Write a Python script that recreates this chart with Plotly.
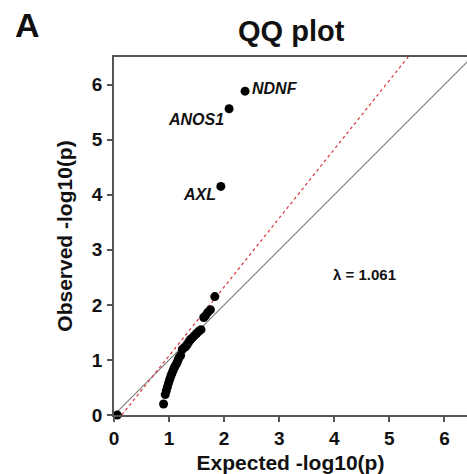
import plotly.graph_objects as go

# Data
expected = [0.06, 0.90, 0.93, 0.95, 0.97, 0.99, 1.01, 1.03, 1.05, 1.07, 1.09, 1.11,
            1.14, 1.16, 1.18, 1.21, 1.24, 1.27, 1.30, 1.33, 1.36, 1.39, 1.42, 1.46,
            1.50, 1.54, 1.58, 1.63, 1.66, 1.70, 1.75, 1.83, 1.94, 2.09, 2.38]
observed = [0.00, 0.20, 0.37, 0.44, 0.51, 0.58, 0.64, 0.70, 0.75, 0.80, 0.85, 0.89,
            0.94, 0.99, 1.04, 1.08, 1.19, 1.22, 1.24, 1.28, 1.33, 1.37, 1.40, 1.44,
            1.48, 1.52, 1.55, 1.77, 1.80, 1.86, 1.91, 2.15, 4.15, 5.56, 5.88]
gene_labels = ["AXL", "ANOS1", "NDNF"]
gene_x = [1.94, 2.09, 2.38]
gene_y = [4.15, 5.56, 5.88]
lambda_text = "λ = 1.061"
fit_slope = 1.25
fit_intercept = -0.175
x_range = [0, 6.41]
y_range = [0, 6.5]
ticks = [0, 1, 2, 3, 4, 5, 6]

FONT = "Liberation Sans, Arial, sans-serif"

fig = go.Figure()

# identity line
fig.add_trace(go.Scatter(x=[0, 7], y=[0, 7], mode="lines",
                         line=dict(color="#7a7a7a", width=1.1), hoverinfo="skip",
                         showlegend=False))
# fitted line
fx = [(-fit_intercept) / fit_slope, 7]
fy = [fit_slope * v + fit_intercept for v in fx]
fig.add_trace(go.Scatter(x=fx, y=fy, mode="lines",
                         line=dict(color="#d9343a", width=1.2, dash="3px,3px"),
                         hoverinfo="skip", showlegend=False))
# points
fig.add_trace(go.Scatter(x=expected, y=observed, mode="markers",
                         marker=dict(color="black", size=9), showlegend=False,
                         cliponaxis=False))

# gene labels
positions = {
    "AXL": dict(xanchor="right", yanchor="middle", xshift=-3, yshift=-8),
    "ANOS1": dict(xanchor="right", yanchor="middle", xshift=-3, yshift=-11),
    "NDNF": dict(xanchor="left", yanchor="middle", xshift=5, yshift=3),
}
for g, gx, gy in zip(gene_labels, gene_x, gene_y):
    p = positions[g]
    fig.add_annotation(x=gx, y=gy, text=f"<b><i>{g}</i></b>", showarrow=False,
                       font=dict(family=FONT, size=16, color="#111"), **p)

fig.add_annotation(x=4.55, y=2.55, text=f"<b>{lambda_text}</b>", showarrow=False,
                   font=dict(family=FONT, size=15, color="#111"))

# title and panel letter
fig.add_annotation(xref="paper", yref="paper", x=0.503, y=1.0, yshift=8,
                   xanchor="center", yanchor="bottom",
                   text="<b>QQ plot</b>", showarrow=False,
                   font=dict(family=FONT, size=29, color="#111"))
fig.add_annotation(xref="paper", yref="paper", x=-0.285, y=1.0, yshift=11,
                   xanchor="left", yanchor="bottom", text="<b>A</b>", showarrow=False,
                   font=dict(family=FONT, size=34, color="#111"))

axis_common = dict(
    showgrid=False, zeroline=False, showline=True, linecolor="#555", linewidth=1.5,
    ticks="outside", ticklen=5, tickwidth=1.5, tickcolor="#555", automargin=False,
    tickfont=dict(family=FONT, size=19, color="#111"),
    tickvals=ticks, ticktext=[f"<b>{t}</b>" for t in ticks],
)

fig.update_layout(
    width=467, height=474,
    margin=dict(l=114, r=0, t=57, b=59, autoexpand=False),
    plot_bgcolor="white", paper_bgcolor="white",
    xaxis=dict(range=x_range, mirror=True, **axis_common,
               title=dict(text="<b>Expected -log10(p)</b>", standoff=10,
                          font=dict(family=FONT, size=21, color="#111"))),
    yaxis=dict(range=y_range, ticklabelstandoff=1, **axis_common,
               title=dict(text="<b>Observed -log10(p)</b>", standoff=14,
                          font=dict(family=FONT, size=21, color="#111"))),
)

fig.write_html("out.html", config={"displayModeBar": False},
               post_script="document.body.style.margin='0';")
